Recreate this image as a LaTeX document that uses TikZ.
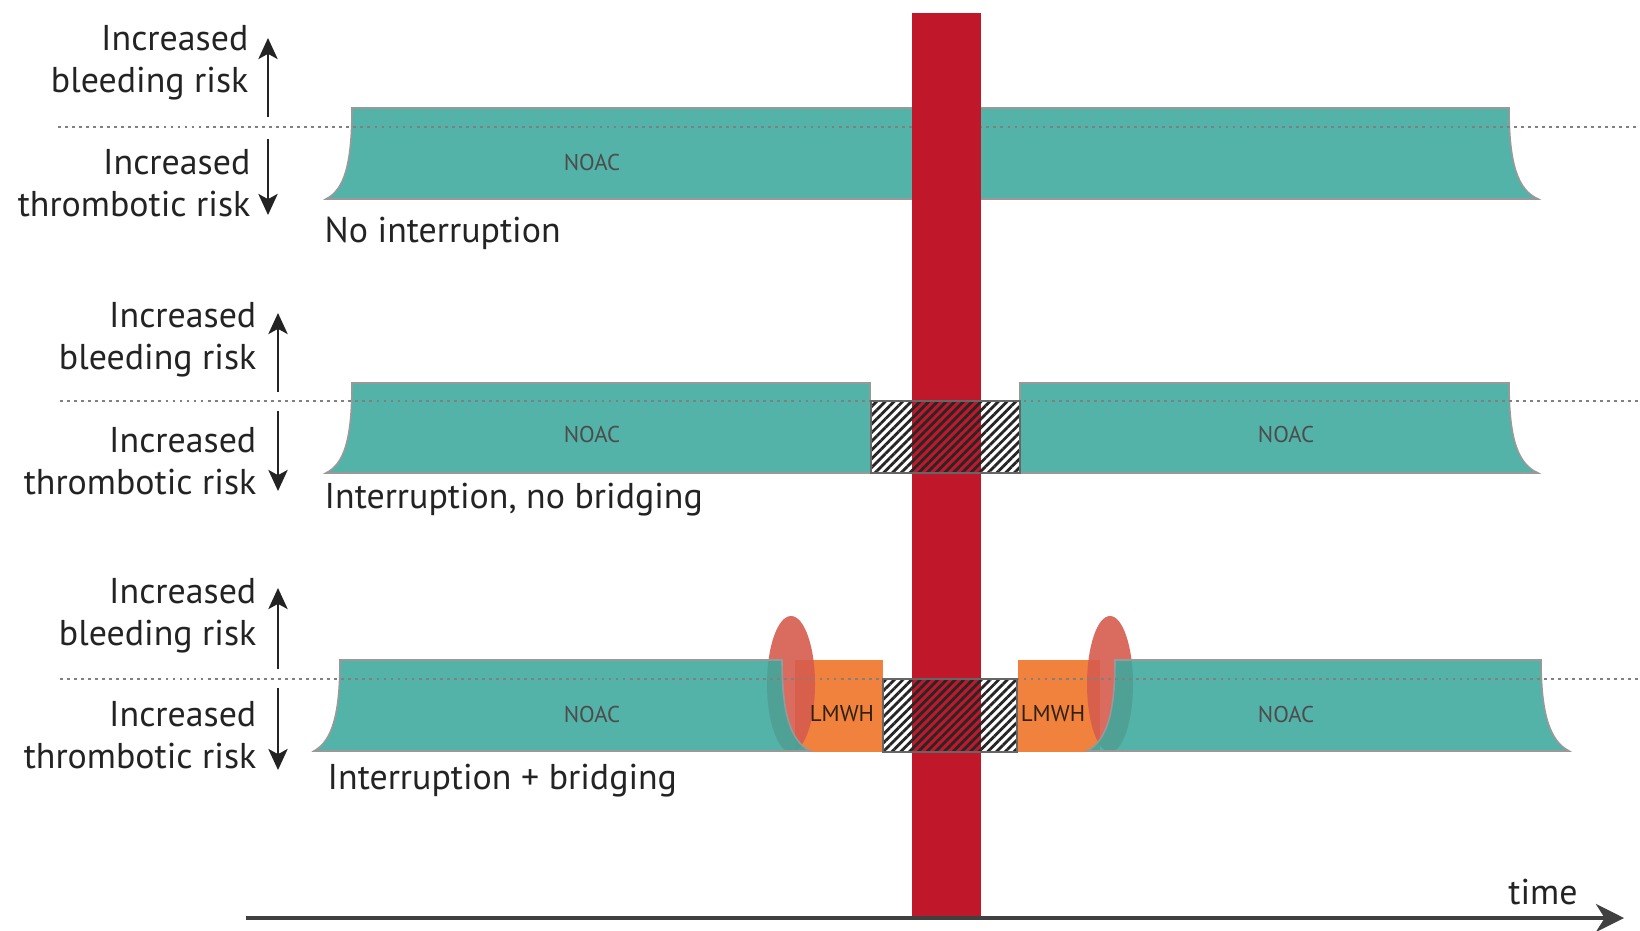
\documentclass[tikz,border=0pt]{standalone}
\usepackage{fontspec}
\setmainfont{PT Sans}
\usetikzlibrary{arrows.meta,patterns.meta}

\definecolor{noacgreen}{RGB}{60,168,157}
\definecolor{surgeryred}{RGB}{192,24,42}
\definecolor{lmwhorange}{RGB}{241,130,62}
\definecolor{peakred}{RGB}{214,92,78}
\definecolor{labelgray}{RGB}{35,35,35}

\begin{document}
\begin{tikzpicture}[x = 0.01cm, y = -0.01cm,
  noac/.style = {fill = noacgreen, fill opacity = 0.88, draw = black!40, line width = 0.45pt},
  lmwh/.style = {fill = lmwhorange},
  peak/.style = {fill = peakred, fill opacity = 0.9},
  hatchbox/.style = {pattern = {Lines[angle = 45, distance = 1.75pt, line width = 0.8pt]},
    pattern color = black!85, draw = black!60, line width = 0.5pt},
  baseline/.style = {draw = gray, line width = 0.6pt, dash pattern = on 0.8pt off 1.2pt},
  risk/.style = {align = right, anchor = east, text = labelgray,
    font = \fontsize{10.2}{12}\selectfont, inner sep = 0pt},
  casename/.style = {anchor = west, text = labelgray,
    font = \fontsize{10.2}{12}\selectfont, inner sep = 0pt},
  drug/.style = {text = black!70, font = \fontsize{6.5}{7}\selectfont, inner sep = 0pt},
  riskarrow/.style = {-{Stealth[length = 6pt, width = 5.5pt, inset = 1.5pt]}, line width = 0.6pt, labelgray}]
\useasboundingbox (0, 0) rectangle (1640, 930);
%\draw[very thin, color = gray](0, 0) grid[step = 100] (1640, 930);

% bridging: orange LMWH and the peaks
\fill [lmwh] (795, 660) rectangle (883, 752);
\fill [lmwh] (1018, 660) rectangle (1100, 752);
\fill [peak] (791, 684) ellipse [x radius = 24, y radius = 68];
\fill [peak] (1110, 684) ellipse [x radius = 23, y radius = 68];

% NOAC bands
\draw [noac] (352, 108) -- (1509, 108) .. controls (1509, 165) and (1518, 190) .. (1538, 199)
  -- (326, 199) .. controls (344, 190) and (352, 165) .. (352, 108) -- cycle;
\draw [noac] (352, 383) -- (870, 383) -- (871, 473)
  -- (326, 473) .. controls (344, 464) and (352, 440) .. (352, 383) -- cycle;
\draw [noac] (1020, 383) -- (1509, 383) .. controls (1509, 440) and (1518, 464) .. (1538, 473)
  -- (1020, 473) -- cycle;
\draw [noac] (340, 660) -- (782, 660) .. controls (782, 715) and (791, 741) .. (810, 751)
  -- (314, 751) .. controls (332, 741) and (340, 715) .. (340, 660) -- cycle;
\draw [noac] (1115, 660) -- (1541, 660) .. controls (1541, 715) and (1550, 741) .. (1569, 751)
  -- (1087, 751) .. controls (1106, 741) and (1115, 715) .. (1115, 660) -- cycle;

% dotted zero lines
\draw [baseline] (58, 127) -- (1640, 127);
\draw [baseline] (60, 401) -- (1640, 401);
\draw [baseline] (60, 679) -- (1640, 679);

% surgery
\fill [surgeryred] (912, 13) rectangle (981, 918);

% interruption
\draw [hatchbox] (871, 401) rectangle (1020, 473);
\draw [hatchbox] (883, 679) rectangle (1017, 752);

\node [drug] (noac1) at (592, 162) {NOAC};
\node [drug] (noac2) at (592, 434) {NOAC};
\node [drug] (noac3) at (1286, 434) {NOAC};
\node [drug] (noac4) at (592, 714) {NOAC};
\node [drug] (noac5) at (1286, 714) {NOAC};
\node [drug, text = black!75!brown] (lmwh1) at (842, 714) {LMWH};
\node [drug, text = black!75!brown] (lmwh2) at (1053, 714) {LMWH};

% risk labels
\node [risk] (bleed1) at (249, 63) {Increased\\bleeding risk};
\node [risk] (thromb1) at (251, 183) {Increased\\thrombotic risk};
\node [risk] (bleed2) at (257, 340) {Increased\\bleeding risk};
\node [risk] (thromb2) at (257, 461) {Increased\\thrombotic risk};
\node [risk] (bleed3) at (257, 616) {Increased\\bleeding risk};
\node [risk] (thromb3) at (257, 735) {Increased\\thrombotic risk};

\coordinate (up1) at (268, 117);
\coordinate (up1top) at (268, 38);
\coordinate (down1) at (268, 139);
\coordinate (down1bot) at (268, 215);
\coordinate (up2) at (278, 392);
\coordinate (up2top) at (278, 313);
\coordinate (down2) at (278, 411);
\coordinate (down2bot) at (278, 491);
\coordinate (up3) at (278, 669);
\coordinate (up3top) at (278, 588);
\coordinate (down3) at (278, 688);
\coordinate (down3bot) at (278, 770);
\draw [riskarrow] (up1) -- (up1top);
\draw [riskarrow] (down1) -- (down1bot);
\draw [riskarrow] (up2) -- (up2top);
\draw [riskarrow] (down2) -- (down2bot);
\draw [riskarrow] (up3) -- (up3top);
\draw [riskarrow] (down3) -- (down3bot);

\node [casename] (case1) at (324, 233) {No interruption};
\node [casename] (case2) at (324, 500) {Interruption, no bridging};
\node [casename] (case3) at (327, 781) {Interruption + bridging};

% time axis
\coordinate (origin) at (246, 918);
\coordinate (tend) at (1624, 918);
\draw [-{Stealth[length = 8pt, width = 8pt, inset = 2.5pt]}, line width = 1pt, black!75] (origin) -- (tend);
\node [casename, anchor = center] (time) at (1543, 892) {time};
\end{tikzpicture}
\end{document}
